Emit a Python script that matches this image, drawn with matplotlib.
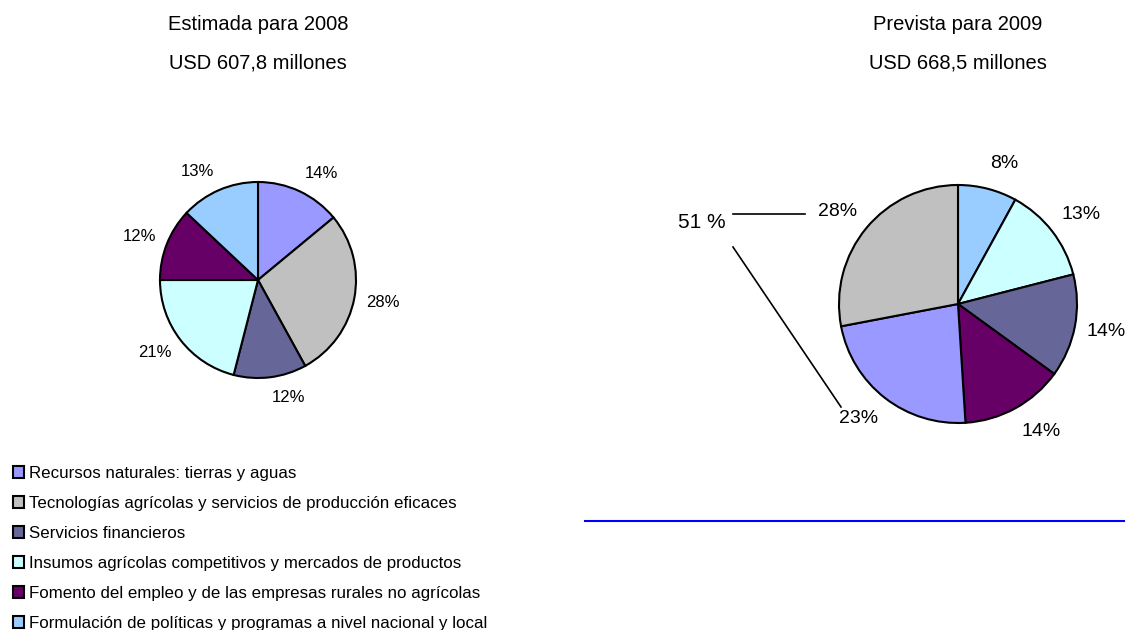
import matplotlib.pyplot as plt
from matplotlib.lines import Line2D

plt.rcParams['font.family'] = ['Liberation Sans', 'DejaVu Sans']

# datos
categorias = [
    "Recursos naturales: tierras y aguas",
    "Tecnologías agrícolas y servicios de producción eficaces",
    "Servicios financieros",
    "Insumos agrícolas competitivos y mercados de productos",
    "Fomento del empleo y de las empresas rurales no agrícolas",
    "Formulación de políticas y programas a nivel nacional y local",
]
colores = ["#9999FF", "#C0C0C0", "#666699", "#CCFFFF", "#660066", "#99CCFF"]

valores_2008 = [14, 28, 12, 21, 12, 13]          # mismo orden que categorias
orden_2009 = [5, 3, 2, 4, 0, 1]                  # orden de las porciones en 2009
valores_2009 = [8, 13, 14, 14, 23, 28]
titulo_2008 = ["Estimada para 2008", "USD 607,8 millones"]
titulo_2009 = ["Prevista para 2009", "USD 668,5 millones"]
suma_2009 = "51 %"

W, H = 1125, 630
fig = plt.figure(figsize=(W / 100, H / 100), dpi=100)


def px_axes(cx, cy, r, k=1.5):
    # eje cuadrado centrado en (cx, cy) pixeles, radio r de la torta = 1
    R = r * k
    return fig.add_axes([(cx - R) / W, 1 - (cy + R) / H, 2 * R / W, 2 * R / H])


def fx(x):
    return x / W


def fy(y):
    return 1 - y / H


wedge_kw = dict(edgecolor='black', linewidth=1.5)


def torta(ax, valores, cols, fs, r_px, dist, kv):
    etiquetas = [f"{v}%" for v in valores]
    w, textos = ax.pie(valores, colors=cols, startangle=90, counterclock=False,
                       labels=etiquetas, labeldistance=dist,
                       wedgeprops=wedge_kw, textprops=dict(fontsize=fs), frame=True)
    # estilo Excel: la caja de la etiqueta queda fuera del circulo
    h = fs * 1.39 / r_px
    for t in textos:
        x, y = t.get_position()
        t.set_position((x, y + kv * h * y / dist))
    ax.set_xlim(-1.5, 1.5)
    ax.set_ylim(-1.5, 1.5)
    ax.set_aspect('equal')
    ax.axis('off')
    return w


# torta 2008
ax1 = px_axes(258, 280, 98)
w1 = torta(ax1, valores_2008, colores, 12, 98, 1.12, 0.5)

# torta 2009
ax2 = px_axes(958, 304, 119)
torta(ax2, valores_2009, [colores[i] for i in orden_2009], 14, 119, 1.1, 0.75)

# titulos
for x, lineas in [(258, titulo_2008), (958, titulo_2009)]:
    fig.text(fx(x), fy(25), lineas[0], ha='center', va='center', fontsize=14.5)
    fig.text(fx(x), fy(63), lineas[1], ha='center', va='center', fontsize=14.5)

# llamada 51 %
fig.text(fx(702), fy(222), suma_2009, ha='center', va='center', fontsize=15)
fig.add_artist(Line2D([fx(733), fx(805)], [fy(214), fy(214)], color='black', lw=1.2))
fig.add_artist(Line2D([fx(733), fx(841)], [fy(247), fy(407)], color='black', lw=1.2))

# linea azul
fig.add_artist(Line2D([fx(585), fx(1125)], [fy(521), fy(521)], color='#0000FF', lw=1.5))

# leyenda
fig.legend(w1, categorias, loc='upper left', bbox_to_anchor=(fx(6), fy(459)),
           frameon=False, fontsize=12.2, handlelength=0.68, handleheight=0.68,
           handletextpad=0.3, labelspacing=0.89, borderaxespad=0)

fig.savefig("out.png", dpi=100)
